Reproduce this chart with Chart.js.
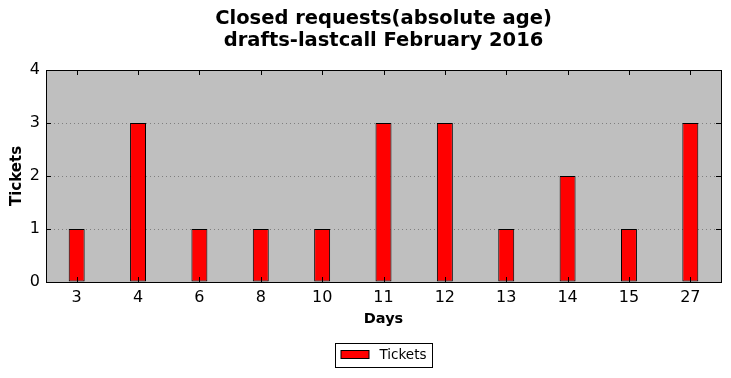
<!DOCTYPE html>
<html lang="en">
<head>
  <meta charset="UTF-8" />
  <title>Closed requests(absolute age)</title>
  <script src="https://cdn.jsdelivr.net/npm/chart.js"></script>
  <style>
    html, body { margin: 0; padding: 0; background: #fff; }
    #wrap { width: 731px; height: 378px; }
  </style>
</head>
<body>
  <div id="wrap"><canvas id="ageChart" width="731" height="378"></canvas></div>

  <script>
    const titleLines = ['Closed requests(absolute age)', 'drafts-lastcall February 2016'];
    const days = ['3', '4', '6', '8', '10', '11', '12', '13', '14', '15', '27'];
    const tickets = [1, 3, 1, 1, 1, 3, 3, 1, 2, 1, 3];
    const yTicks = [0, 1, 2, 3, 4];
    const seriesName = 'Tickets';

    const FONT = "'DejaVu Sans', sans-serif";

    // frame, inward ticks, title and legend drawn mpl-style
    const mplDecor = {
      id: 'mplDecor',
      afterDatasetsDraw(chart) {
        const { ctx, chartArea: a, scales } = chart;
        ctx.save();
        ctx.strokeStyle = '#000';
        ctx.lineWidth = 1;
        ctx.strokeRect(Math.round(a.left) + 0.5, Math.round(a.top) + 0.5,
          Math.round(a.right - a.left), Math.round(a.bottom - a.top));
        ctx.beginPath();
        days.forEach((d, i) => {
          const x = Math.round(scales.x.getPixelForValue(i)) + 0.5;
          ctx.moveTo(x, a.top); ctx.lineTo(x, a.top + 5);
          ctx.moveTo(x, a.bottom); ctx.lineTo(x, a.bottom - 5);
        });
        yTicks.forEach(v => {
          const y = Math.round(scales.y.getPixelForValue(v)) + 0.5;
          ctx.moveTo(a.left, y); ctx.lineTo(a.left + 5, y);
          ctx.moveTo(a.right, y); ctx.lineTo(a.right - 5, y);
        });
        ctx.stroke();
        ctx.restore();
      },
      afterDraw(chart) {
        const { ctx, chartArea: a } = chart;
        const cx = (a.left + a.right) / 2;
        ctx.save();
        ctx.fillStyle = '#000';
        ctx.textAlign = 'center';
        ctx.textBaseline = 'middle';
        ctx.font = 'bold 19.5px ' + FONT;
        ctx.fillText(titleLines[0], cx, 19);
        ctx.fillText(titleLines[1], cx, 41);

        // legend
        const lx = Math.round(cx - 48.5) + 0.5, ly = 343.5, lw = 97, lh = 24;
        ctx.fillStyle = '#fff';
        ctx.fillRect(lx, ly, lw, lh);
        ctx.strokeStyle = '#000';
        ctx.lineWidth = 1;
        ctx.strokeRect(lx, ly, lw, lh);
        ctx.fillStyle = '#ff0000';
        ctx.fillRect(lx + 5.5, ly + 7, 28, 8);
        ctx.strokeRect(lx + 5.5, ly + 7, 28, 8);
        ctx.fillStyle = '#000';
        ctx.textAlign = 'left';
        ctx.font = '13.5px ' + FONT;
        ctx.fillText(seriesName, lx + 44, ly + 12);
        ctx.restore();
      }
    };

    const plotBg = {
      id: 'plotBg',
      beforeDraw(chart) {
        const { ctx, chartArea: a } = chart;
        ctx.save();
        ctx.fillStyle = '#bfbfbf';
        ctx.fillRect(a.left, a.top, a.right - a.left, a.bottom - a.top);
        ctx.restore();
      }
    };

    new Chart(document.getElementById('ageChart'), {
      type: 'bar',
      data: {
        labels: days,
        datasets: [{
          label: seriesName,
          data: tickets,
          backgroundColor: '#ff0000',
          borderColor: '#000',
          borderWidth: 1,
          borderSkipped: false,
          categoryPercentage: 1,
          barPercentage: 0.26
        }]
      },
      options: {
        responsive: false,
        animation: false,
        layout: { padding: { top: 70, right: 10, bottom: 50, left: 0 } },
        plugins: {
          legend: { display: false },
          title: { display: false },
          tooltip: { enabled: false }
        },
        scales: {
          x: {
            grid: { display: false, drawTicks: false },
            border: { display: false },
            ticks: { color: '#000', font: { family: FONT, size: 16 }, padding: 6, maxRotation: 0 },
            title: { display: true, text: 'Days', color: '#000', font: { family: FONT, size: 14.5, weight: 'bold' }, padding: { top: 4, bottom: 0 } },
            afterFit(s) { s.height = 46; }
          },
          y: {
            min: 0,
            max: 4,
            afterBuildTicks(s) { s.ticks = yTicks.map(v => ({ value: v })); },
            grid: {
              drawTicks: false,
              color: ctx => (ctx.tick && (ctx.tick.value === 0 || ctx.tick.value === 4)) ? 'rgba(0,0,0,0)' : '#7f7f7f',
              lineWidth: 1
            },
            border: { display: false, dash: [1, 3] },
            ticks: { color: '#000', font: { family: FONT, size: 16 }, padding: 6 },
            title: { display: true, text: 'Tickets', color: '#000', font: { family: FONT, size: 15, weight: 'bold' }, padding: { top: 8, bottom: 0 } },
            afterFit(s) { s.width = 46; }
          }
        }
      },
      plugins: [plotBg, mplDecor]
    });
  </script>
</body>
</html>
